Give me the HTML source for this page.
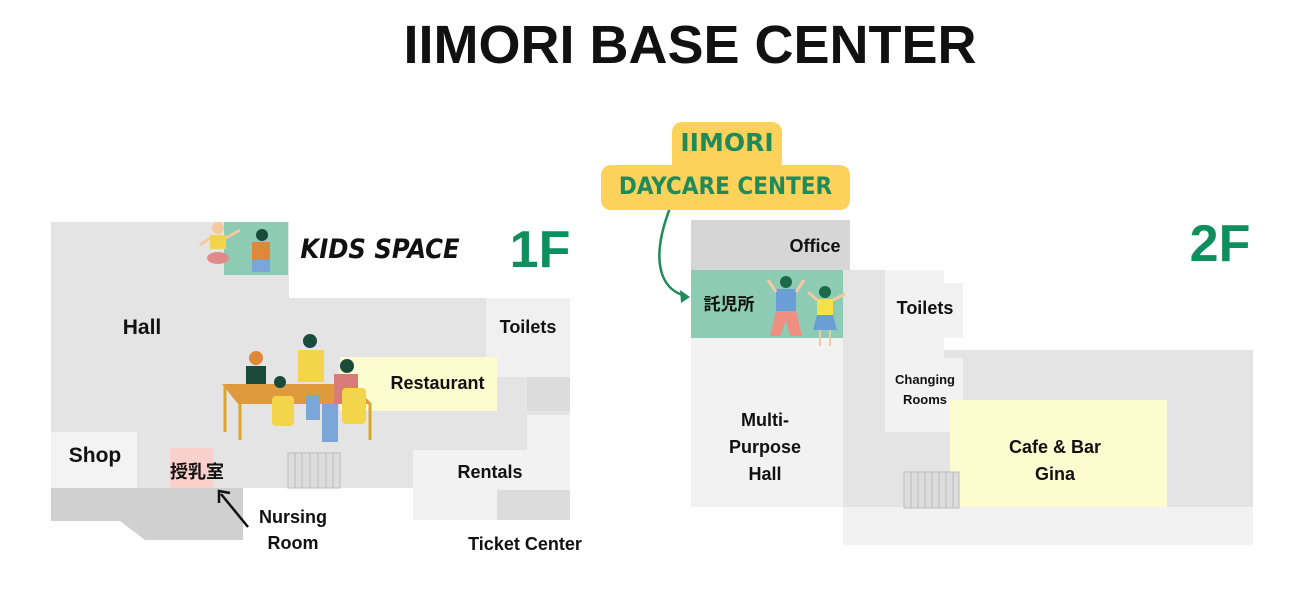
<!DOCTYPE html>
<html><head><meta charset="utf-8"><style>
body{margin:0;width:1300px;height:600px;background:#fff;position:relative;overflow:hidden;font-family:"Liberation Sans","Noto Sans CJK JP",sans-serif;}
.r{position:absolute;}
.t{position:absolute;font-weight:bold;color:#111;text-align:center;white-space:nowrap;}
</style></head><body>
<div class="t" style="left:340px;top:14px;width:700px;font-size:54px;letter-spacing:0px;line-height:62px;">IIMORI BASE CENTER</div>

<!-- 1F -->
<div class="r" style="left:51px;top:222px;width:238px;height:266px;background:#e4e4e4"></div>
<div class="r" style="left:289px;top:298px;width:281px;height:190px;background:#e4e4e4"></div>
<div class="r" style="left:224px;top:222px;width:64px;height:53px;background:#8ecbb5"></div>
<div class="r" style="left:486px;top:298px;width:84px;height:79px;background:#f0f0f0"></div>
<div class="r" style="left:527px;top:377px;width:43px;height:34px;background:#dcdcdc"></div>
<div class="r" style="left:527px;top:415px;width:43px;height:40px;background:#f2f2f2"></div>
<div class="r" style="left:340px;top:357px;width:157px;height:54px;background:#fdfbd0"></div>
<div class="r" style="left:51px;top:432px;width:86px;height:56px;background:#f3f3f3"></div>
<div class="r" style="left:170px;top:448px;width:43px;height:40px;background:#f9d0cc"></div>
<div class="r" style="left:413px;top:450px;width:157px;height:70px;background:#f2f2f2"></div>
<div class="r" style="left:497px;top:490px;width:73px;height:30px;background:#dcdcdc"></div>
<svg class="r" style="left:0;top:0" width="1300" height="600">
<polygon points="51,488 243,488 243,540 145,540 120,521 51,521" fill="#d0d0d0"/>
<g fill="#ddd" stroke="#bbb" stroke-width="1"><rect x="288" y="453" width="52" height="35"/>
<line x1="295" y1="453" x2="295" y2="488"/><line x1="302" y1="453" x2="302" y2="488"/><line x1="310" y1="453" x2="310" y2="488"/><line x1="318" y1="453" x2="318" y2="488"/><line x1="326" y1="453" x2="326" y2="488"/><line x1="333" y1="453" x2="333" y2="488"/></g>
<!-- kids 1F -->
<circle cx="218" cy="228" r="6" fill="#f5c9a0"/><rect x="210" y="235" width="16" height="14" fill="#f2d54a"/><ellipse cx="218" cy="258" rx="11" ry="6" fill="#e28a8a"/>
<line x1="210" y1="238" x2="200" y2="245" stroke="#f5c9a0" stroke-width="3"/><line x1="226" y1="238" x2="240" y2="230" stroke="#f5c9a0" stroke-width="3"/>
<circle cx="262" cy="235" r="6" fill="#1a4a3a"/><rect x="252" y="242" width="18" height="18" fill="#e0883a"/><rect x="252" y="260" width="18" height="12" fill="#7aa6d8"/>
<!-- restaurant people -->
<polygon points="222,384 352,384 372,404 238,404" fill="#e09a3e"/>
<line x1="225" y1="385" x2="225" y2="432" stroke="#d9a72e" stroke-width="3"/><line x1="240" y1="404" x2="240" y2="440" stroke="#d9a72e" stroke-width="3"/><line x1="370" y1="404" x2="370" y2="440" stroke="#d9a72e" stroke-width="3"/>
<circle cx="256" cy="358" r="7" fill="#e0883a"/><rect x="246" y="366" width="20" height="18" fill="#1a4a3a"/>
<circle cx="310" cy="341" r="7" fill="#1a4a3a"/><rect x="298" y="350" width="26" height="32" fill="#f2d54a"/><rect x="306" y="395" width="14" height="25" fill="#7aa6d8"/>
<circle cx="347" cy="366" r="7" fill="#1a4a3a"/><rect x="334" y="374" width="24" height="30" fill="#d97b78"/><rect x="322" y="404" width="16" height="38" fill="#7aa6d8"/>
<rect x="342" y="388" width="24" height="36" rx="4" fill="#f2d54a"/><rect x="272" y="396" width="22" height="30" rx="4" fill="#f2d54a"/>
<circle cx="280" cy="382" r="6" fill="#1a4a3a"/>
<!-- arrows -->
<line x1="248" y1="527" x2="221" y2="494" stroke="#111" stroke-width="2.5"/><polyline points="219,503 219,491 230,493" fill="none" stroke="#111" stroke-width="2.5"/>
<path d="M670,208 C650,260 660,290 686,296" fill="none" stroke="#1f8a5a" stroke-width="2.5"/><polygon points="690,297 680,290 681,303" fill="#1f8a5a"/>
<!-- 2F -->
<rect x="691" y="220" width="159" height="50" fill="#d6d6d6"/>
</svg>
<div class="r" style="left:691px;top:270px;width:152px;height:68px;background:#8ecbb5"></div>
<div class="r" style="left:691px;top:338px;width:152px;height:169px;background:#f2f2f2"></div>
<div class="r" style="left:843px;top:270px;width:42px;height:237px;background:#e4e4e4"></div>
<div class="r" style="left:885px;top:350px;width:368px;height:157px;background:#e4e4e4"></div>
<div class="r" style="left:885px;top:270px;width:59px;height:162px;background:#f2f2f2"></div>
<div class="r" style="left:885px;top:283px;width:78px;height:55px;background:#f2f2f2"></div>
<div class="r" style="left:885px;top:358px;width:78px;height:74px;background:#f2f2f2"></div>
<div class="r" style="left:950px;top:400px;width:217px;height:107px;background:#fdfbd0"></div>
<div class="r" style="left:843px;top:507px;width:410px;height:38px;background:#f2f2f2"></div>
<svg class="r" style="left:0;top:0" width="1300" height="600">
<g fill="#ddd" stroke="#bbb"><rect x="904" y="472" width="55" height="36"/>
<line x1="911" y1="472" x2="911" y2="508"/><line x1="918" y1="472" x2="918" y2="508"/><line x1="925" y1="472" x2="925" y2="508"/><line x1="932" y1="472" x2="932" y2="508"/><line x1="939" y1="472" x2="939" y2="508"/><line x1="946" y1="472" x2="946" y2="508"/><line x1="953" y1="472" x2="953" y2="508"/></g>
<circle cx="786" cy="282" r="6" fill="#1a6a4a"/><rect x="776" y="289" width="20" height="22" fill="#6a9ed6"/><polygon points="776,311 796,311 802,336 790,336 786,320 780,336 770,336" fill="#ef8f82"/>
<line x1="776" y1="292" x2="768" y2="280" stroke="#f5c9a0" stroke-width="3"/><line x1="796" y1="292" x2="804" y2="280" stroke="#f5c9a0" stroke-width="3"/>
<circle cx="825" cy="292" r="6" fill="#1a6a4a"/><rect x="817" y="299" width="16" height="16" fill="#f5e24a"/><polygon points="817,315 833,315 837,330 813,330" fill="#6a9ed6"/>
<line x1="820" y1="330" x2="820" y2="346" stroke="#f5c9a0" stroke-width="2"/><line x1="830" y1="330" x2="830" y2="346" stroke="#f5c9a0" stroke-width="2"/>
<line x1="817" y1="300" x2="808" y2="292" stroke="#f5c9a0" stroke-width="3"/><line x1="833" y1="300" x2="845" y2="294" stroke="#f5c9a0" stroke-width="3"/>
</svg>
<!-- bubble -->
<div class="r" style="left:672px;top:122px;width:110px;height:50px;background:#fdd25a;border-radius:10px"></div>
<div class="r" style="left:601px;top:165px;width:249px;height:45px;background:#fdd25a;border-radius:10px"></div>
<div class="t" style="left:672px;top:128px;width:110px;font-size:25px;color:#1f8a5a;font-family:'DejaVu Sans',sans-serif">IIMORI</div>
<div class="t" style="left:601px;top:172px;width:249px;font-size:24px;color:#1f8a5a;font-family:'DejaVu Sans Condensed','DejaVu Sans',sans-serif;letter-spacing:0px">DAYCARE CENTER</div>

<div class="t" style="left:300px;top:234px;width:160px;font-size:27px;font-family:'DejaVu Sans Condensed',sans-serif;font-style:italic">KIDS SPACE</div>
<div class="t" style="left:500px;top:220px;width:80px;font-size:52px;color:#0f8f5e">1F</div>
<div class="t" style="left:1180px;top:214px;width:80px;font-size:52px;color:#0f8f5e">2F</div>
<div class="t" style="left:100px;top:316px;width:84px;font-size:21px">Hall</div>
<div class="t" style="left:486px;top:317px;width:84px;font-size:18px">Toilets</div>
<div class="t" style="left:380px;top:373px;width:115px;font-size:18px">Restaurant</div>
<div class="t" style="left:55px;top:444px;width:80px;font-size:21px">Shop</div>
<div class="t" style="left:166px;top:458px;width:62px;font-size:18px">授乳室</div>
<div class="t" style="left:440px;top:462px;width:100px;font-size:18px">Rentals</div>
<div class="t" style="left:246px;top:504px;width:94px;font-size:18px;line-height:26px">Nursing<br>Room</div>
<div class="t" style="left:455px;top:534px;width:140px;font-size:18px">Ticket Center</div>
<div class="t" style="left:770px;top:236px;width:90px;font-size:18px">Office</div>
<div class="t" style="left:697px;top:290px;width:64px;font-size:17px">託児所</div>
<div class="t" style="left:885px;top:298px;width:80px;font-size:18px">Toilets</div>
<div class="t" style="left:885px;top:370px;width:80px;font-size:13px;line-height:20px">Changing<br>Rooms</div>
<div class="t" style="left:710px;top:407px;width:110px;font-size:18px;line-height:27px">Multi-<br>Purpose<br>Hall</div>
<div class="t" style="left:990px;top:434px;width:130px;font-size:18px;line-height:27px">Cafe &amp; Bar<br>Gina</div>
</body></html>
